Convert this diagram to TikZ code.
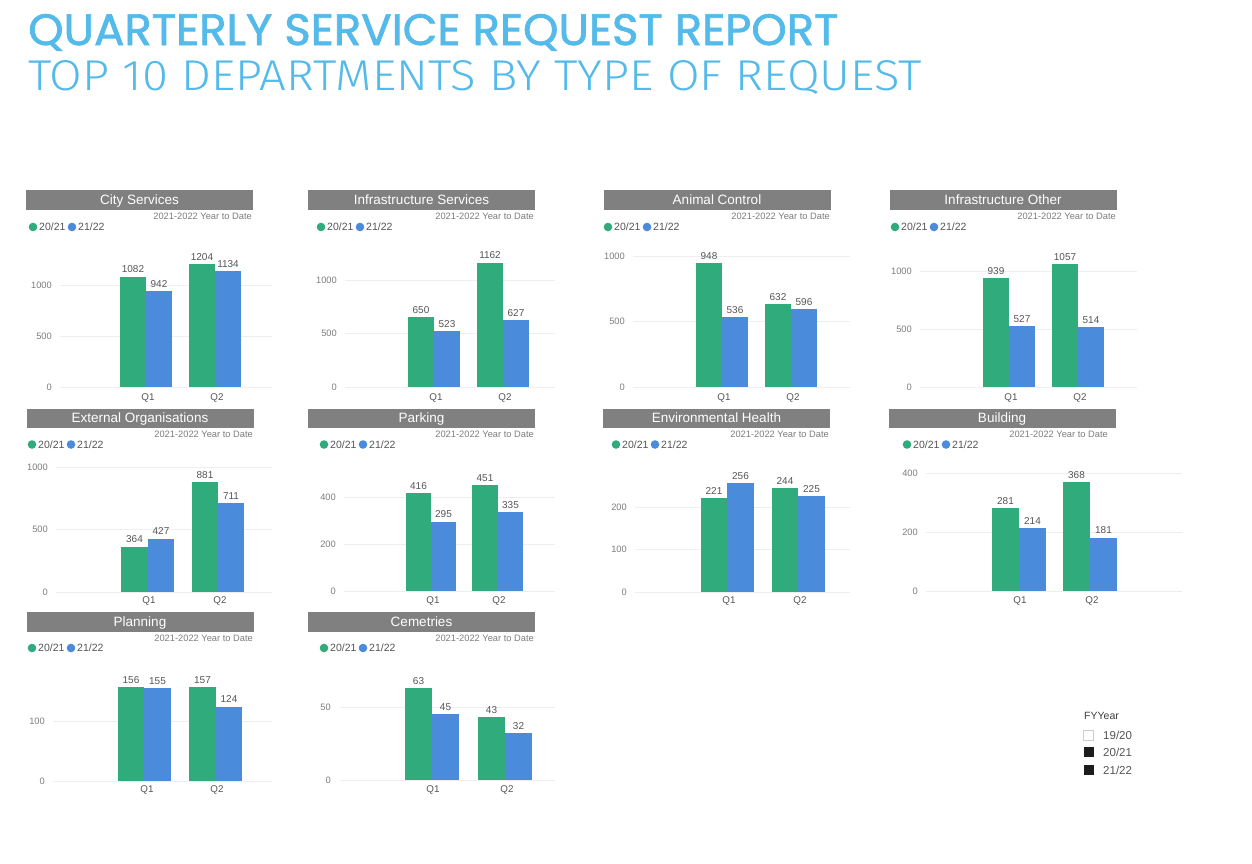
\documentclass[tikz,border=0pt]{standalone}
\usepackage{fontspec}
\usepackage{graphicx}
\setmainfont{Liberation Sans}
\newfontfamily\headfont{Poppins}[BoldFont=Poppins, BoldFeatures={FakeBold=1.6}]
\newfontfamily\thinfont{Fira Sans}[UprightFont=* Light]
\definecolor{ttlblue}{RGB}{84,186,234}
\definecolor{grn}{RGB}{48,172,124}
\definecolor{blu}{RGB}{74,139,220}
\definecolor{hdgray}{RGB}{128,128,128}
\definecolor{txtgray}{RGB}{85,85,85}
\definecolor{axgray}{RGB}{125,125,125}
\definecolor{gridgray}{RGB}{238,238,238}
\definecolor{sqblack}{RGB}{28,28,28}

\begin{document}
\begin{tikzpicture}[x=1pt,y=-1pt]
\tikzstyle{every node}+=[inner sep=0pt]
\tikzstyle{hdbar}=[fill=hdgray, text=white, minimum width=227pt, minimum height=20pt, text depth=0.15ex, font=\fontsize{13.5}{13.5}\selectfont]
\tikzstyle{ytd}=[anchor=east, text=axgray, font=\fontsize{9.3}{9.3}\selectfont]
\tikzstyle{lgtxt}=[anchor=west, text=txtgray, font=\fontsize{10.5}{10.5}\selectfont]
\tikzstyle{val}=[anchor=south, yshift=3.5pt, text=txtgray, font=\fontsize{10}{10}\selectfont]
\tikzstyle{ax}=[anchor=east, text=axgray, font=\fontsize{9.3}{9.3}\selectfont]
\tikzstyle{qlab}=[text=txtgray, font=\fontsize{9.8}{9.8}\selectfont]
\tikzstyle{grid}=[draw=gridgray, line width=0.7pt]
\tikzstyle{fytxt}=[anchor=west, text=txtgray, font=\fontsize{11.5}{11.5}\selectfont]
\useasboundingbox (0,0) rectangle (1252,863);
\fill [white] (0,0) rectangle (1252,863);
\node [anchor=base west, text=ttlblue] (ttl) at (28,45) {\resizebox{810pt}{31pt}{\headfont\bfseries QUARTERLY SERVICE REQUEST REPORT}};
\node [anchor=base west, text=ttlblue] (sub) at (28,90) {\resizebox{894pt}{30pt}{\thinfont TOP 10 DEPARTMENTS BY TYPE OF REQUEST}};

\node [hdbar] (cs) at (139.5,200) {City Services};
\node [ytd] (cs-ytd) at (252,216) {2021-2022 Year to Date};
\fill [grn] (33,227) circle (4.3);
\node [lgtxt] (cs-l1) at (39,227) {20/21};
\fill [blu] (72,227) circle (4.3);
\node [lgtxt] (cs-l2) at (78,227) {21/22};
\draw [grid] (60,285) -- (272,285);
\draw [grid] (60,336) -- (272,336);
\draw [grid] (60,387) -- (272,387);
\node [ax] (cs-a1) at (52,285) {1000};
\node [ax] (cs-a2) at (52,336) {500};
\node [ax] (cs-a3) at (52,387) {0};
\fill [grn] (120,387) rectangle (146,276.6);
\fill [blu] (146,387) rectangle (172,290.9);
\fill [grn] (189,387) rectangle (215,264.2);
\fill [blu] (215,387) rectangle (241,271.3);
\node [val] (cs-v1) at (133,276.6) {1082};
\node [val] (cs-v2) at (159,290.9) {942};
\node [val] (cs-v3) at (202,264.2) {1204};
\node [val] (cs-v4) at (228,271.3) {1134};
\node [qlab] (cs-q1) at (148,398) {Q1};
\node [qlab] (cs-q2) at (217,398) {Q2};

\node [hdbar] (is) at (421.5,200) {Infrastructure Services};
\node [ytd] (is-ytd) at (534,216) {2021-2022 Year to Date};
\fill [grn] (321,227) circle (4.3);
\node [lgtxt] (is-l1) at (327,227) {20/21};
\fill [blu] (360,227) circle (4.3);
\node [lgtxt] (is-l2) at (366,227) {21/22};
\draw [grid] (345,280) -- (555,280);
\draw [grid] (345,333.5) -- (555,333.5);
\draw [grid] (345,387) -- (555,387);
\node [ax] (is-a1) at (337,280) {1000};
\node [ax] (is-a2) at (337,333.5) {500};
\node [ax] (is-a3) at (337,387) {0};
\fill [grn] (408,387) rectangle (434,317.4);
\fill [blu] (434,387) rectangle (460,331);
\fill [grn] (477,387) rectangle (503,262.7);
\fill [blu] (503,387) rectangle (529,319.9);
\node [val] (is-v1) at (421,317.4) {650};
\node [val] (is-v2) at (447,331) {523};
\node [val] (is-v3) at (490,262.7) {1162};
\node [val] (is-v4) at (516,319.9) {627};
\node [qlab] (is-q1) at (436,398) {Q1};
\node [qlab] (is-q2) at (505,398) {Q2};

\node [hdbar] (ac) at (717,200) {Animal Control};
\node [ytd] (ac-ytd) at (830,216) {2021-2022 Year to Date};
\fill [grn] (608,227) circle (4.3);
\node [lgtxt] (ac-l1) at (614,227) {20/21};
\fill [blu] (647,227) circle (4.3);
\node [lgtxt] (ac-l2) at (653,227) {21/22};
\draw [grid] (633,256) -- (850,256);
\draw [grid] (633,321.5) -- (850,321.5);
\draw [grid] (633,387) -- (850,387);
\node [ax] (ac-a1) at (625,256) {1000};
\node [ax] (ac-a2) at (625,321.5) {500};
\node [ax] (ac-a3) at (625,387) {0};
\fill [grn] (696,387) rectangle (722,262.8);
\fill [blu] (722,387) rectangle (748,316.8);
\fill [grn] (765,387) rectangle (791,304.2);
\fill [blu] (791,387) rectangle (817,308.9);
\node [val] (ac-v1) at (709,262.8) {948};
\node [val] (ac-v2) at (735,316.8) {536};
\node [val] (ac-v3) at (778,304.2) {632};
\node [val] (ac-v4) at (804,308.9) {596};
\node [qlab] (ac-q1) at (724,398) {Q1};
\node [qlab] (ac-q2) at (793,398) {Q2};

\node [hdbar] (io) at (1003,200) {Infrastructure Other};
\node [ytd] (io-ytd) at (1116,216) {2021-2022 Year to Date};
\fill [grn] (895,227) circle (4.3);
\node [lgtxt] (io-l1) at (901,227) {20/21};
\fill [blu] (934,227) circle (4.3);
\node [lgtxt] (io-l2) at (940,227) {21/22};
\draw [grid] (920,271) -- (1137,271);
\draw [grid] (920,329) -- (1137,329);
\draw [grid] (920,387) -- (1137,387);
\node [ax] (io-a1) at (912,271) {1000};
\node [ax] (io-a2) at (912,329) {500};
\node [ax] (io-a3) at (912,387) {0};
\fill [grn] (983,387) rectangle (1009,278.1);
\fill [blu] (1009,387) rectangle (1035,325.9);
\fill [grn] (1052,387) rectangle (1078,264.4);
\fill [blu] (1078,387) rectangle (1104,327.4);
\node [val] (io-v1) at (996,278.1) {939};
\node [val] (io-v2) at (1022,325.9) {527};
\node [val] (io-v3) at (1065,264.4) {1057};
\node [val] (io-v4) at (1091,327.4) {514};
\node [qlab] (io-q1) at (1011,398) {Q1};
\node [qlab] (io-q2) at (1080,398) {Q2};

\node [hdbar, minimum height=19pt] (eo) at (140,418) {External Organisations};
\node [ytd] (eo-ytd) at (253,434) {2021-2022 Year to Date};
\fill [grn] (32,444.5) circle (4.3);
\node [lgtxt] (eo-l1) at (38,444.5) {20/21};
\fill [blu] (71,444.5) circle (4.3);
\node [lgtxt] (eo-l2) at (77,444.5) {21/22};
\draw [grid] (56,467) -- (272,467);
\draw [grid] (56,529.5) -- (272,529.5);
\draw [grid] (56,592) -- (272,592);
\node [ax] (eo-a1) at (48,467) {1000};
\node [ax] (eo-a2) at (48,529.5) {500};
\node [ax] (eo-a3) at (48,592) {0};
\fill [grn] (121,592) rectangle (148,546.5);
\fill [blu] (148,592) rectangle (174,538.6);
\fill [grn] (192,592) rectangle (218,481.9);
\fill [blu] (218,592) rectangle (244,503.1);
\node [val] (eo-v1) at (134.5,546.5) {364};
\node [val] (eo-v2) at (161,538.6) {427};
\node [val] (eo-v3) at (205,481.9) {881};
\node [val] (eo-v4) at (231,503.1) {711};
\node [qlab] (eo-q1) at (149,601) {Q1};
\node [qlab] (eo-q2) at (220,601) {Q2};

\node [hdbar, minimum height=19pt] (pk) at (421.5,418) {Parking};
\node [ytd] (pk-ytd) at (534,434) {2021-2022 Year to Date};
\fill [grn] (324,444.5) circle (4.3);
\node [lgtxt] (pk-l1) at (330,444.5) {20/21};
\fill [blu] (363,444.5) circle (4.3);
\node [lgtxt] (pk-l2) at (369,444.5) {21/22};
\draw [grid] (344,497) -- (555,497);
\draw [grid] (344,544) -- (555,544);
\draw [grid] (344,591) -- (555,591);
\node [ax] (pk-a1) at (336,497) {400};
\node [ax] (pk-a2) at (336,544) {200};
\node [ax] (pk-a3) at (336,591) {0};
\fill [grn] (406,591) rectangle (431,493.2);
\fill [blu] (431,591) rectangle (456,521.7);
\fill [grn] (472,591) rectangle (498,485);
\fill [blu] (498,591) rectangle (523,512.3);
\node [val] (pk-v1) at (418.5,493.2) {416};
\node [val] (pk-v2) at (443.5,521.7) {295};
\node [val] (pk-v3) at (485,485) {451};
\node [val] (pk-v4) at (510.5,512.3) {335};
\node [qlab] (pk-q1) at (433,601) {Q1};
\node [qlab] (pk-q2) at (499,601) {Q2};

\node [hdbar, minimum height=19pt] (eh) at (716.5,418) {Environmental Health};
\node [ytd] (eh-ytd) at (829,434) {2021-2022 Year to Date};
\fill [grn] (616,444.5) circle (4.3);
\node [lgtxt] (eh-l1) at (622,444.5) {20/21};
\fill [blu] (655,444.5) circle (4.3);
\node [lgtxt] (eh-l2) at (661,444.5) {21/22};
\draw [grid] (635,507) -- (850,507);
\draw [grid] (635,549.5) -- (850,549.5);
\draw [grid] (635,592) -- (850,592);
\node [ax] (eh-a1) at (627,507) {200};
\node [ax] (eh-a2) at (627,549.5) {100};
\node [ax] (eh-a3) at (627,592) {0};
\fill [grn] (701,592) rectangle (727,498.1);
\fill [blu] (727,592) rectangle (754,483.2);
\fill [grn] (772,592) rectangle (798,488.3);
\fill [blu] (798,592) rectangle (825,496.4);
\node [val] (eh-v1) at (714,498.1) {221};
\node [val] (eh-v2) at (740.5,483.2) {256};
\node [val] (eh-v3) at (785,488.3) {244};
\node [val] (eh-v4) at (811.5,496.4) {225};
\node [qlab] (eh-q1) at (729,601) {Q1};
\node [qlab] (eh-q2) at (800,601) {Q2};

\node [hdbar, minimum height=19pt] (bd) at (1002,418) {Building};
\node [ytd] (bd-ytd) at (1108,434) {2021-2022 Year to Date};
\fill [grn] (907,444.5) circle (4.3);
\node [lgtxt] (bd-l1) at (913,444.5) {20/21};
\fill [blu] (946,444.5) circle (4.3);
\node [lgtxt] (bd-l2) at (952,444.5) {21/22};
\draw [grid] (926,473) -- (1182,473);
\draw [grid] (926,532) -- (1182,532);
\draw [grid] (926,591) -- (1182,591);
\node [ax] (bd-a1) at (918,473) {400};
\node [ax] (bd-a2) at (918,532) {200};
\node [ax] (bd-a3) at (918,591) {0};
\fill [grn] (992,591) rectangle (1019,508.1);
\fill [blu] (1019,591) rectangle (1046,527.9);
\fill [grn] (1063,591) rectangle (1090,482.4);
\fill [blu] (1090,591) rectangle (1117,537.6);
\node [val] (bd-v1) at (1005.5,508.1) {281};
\node [val] (bd-v2) at (1032.5,527.9) {214};
\node [val] (bd-v3) at (1076.5,482.4) {368};
\node [val] (bd-v4) at (1103.5,537.6) {181};
\node [qlab] (bd-q1) at (1020,601) {Q1};
\node [qlab] (bd-q2) at (1092,601) {Q2};

\node [hdbar] (pl) at (140,622) {Planning};
\node [ytd] (pl-ytd) at (253,638) {2021-2022 Year to Date};
\fill [grn] (32,648) circle (4.3);
\node [lgtxt] (pl-l1) at (38,648) {20/21};
\fill [blu] (71,648) circle (4.3);
\node [lgtxt] (pl-l2) at (77,648) {21/22};
\draw [grid] (53,721) -- (272,721);
\draw [grid] (53,781) -- (272,781);
\node [ax] (pl-a1) at (45,721) {100};
\node [ax] (pl-a2) at (45,781) {0};
\fill [grn] (118,781) rectangle (144,687.4);
\fill [blu] (144,781) rectangle (171,688);
\fill [grn] (189,781) rectangle (216,686.8);
\fill [blu] (216,781) rectangle (242,706.6);
\node [val] (pl-v1) at (131,687.4) {156};
\node [val] (pl-v2) at (157.5,688) {155};
\node [val] (pl-v3) at (202.5,686.8) {157};
\node [val] (pl-v4) at (229,706.6) {124};
\node [qlab] (pl-q1) at (147,790) {Q1};
\node [qlab] (pl-q2) at (217,790) {Q2};

\node [hdbar] (cm) at (421.5,622) {Cemetries};
\node [ytd] (cm-ytd) at (534,638) {2021-2022 Year to Date};
\fill [grn] (324,648) circle (4.3);
\node [lgtxt] (cm-l1) at (330,648) {20/21};
\fill [blu] (363,648) circle (4.3);
\node [lgtxt] (cm-l2) at (369,648) {21/22};
\draw [grid] (340,707) -- (555,707);
\draw [grid] (340,780) -- (555,780);
\node [ax] (cm-a1) at (331,707) {50};
\node [ax] (cm-a2) at (331,780) {0};
\fill [grn] (405,780) rectangle (432,688);
\fill [blu] (432,780) rectangle (459,714.3);
\fill [grn] (478,780) rectangle (505,717.2);
\fill [blu] (505,780) rectangle (532,733.3);
\node [val] (cm-v1) at (418.5,688) {63};
\node [val] (cm-v2) at (445.5,714.3) {45};
\node [val] (cm-v3) at (491.5,717.2) {43};
\node [val] (cm-v4) at (518.5,733.3) {32};
\node [qlab] (cm-q1) at (433,790) {Q1};
\node [qlab] (cm-q2) at (507,790) {Q2};

\node [fytxt, font=\fontsize{10.5}{10.5}\selectfont, text=sqblack!85] (fy) at (1084,716) {FYYear};
\draw [gridgray!70!gray, fill=white, line width=0.5pt] (1083.5,730) rectangle (1093.5,740);
\node [fytxt] (fy1) at (1103,735) {19/20};
\fill [sqblack] (1083.5,747) rectangle (1093.5,757);
\node [fytxt] (fy2) at (1103,752) {20/21};
\fill [sqblack] (1083.5,765) rectangle (1093.5,775);
\node [fytxt] (fy3) at (1103,770) {21/22};
\end{tikzpicture}
\end{document}
